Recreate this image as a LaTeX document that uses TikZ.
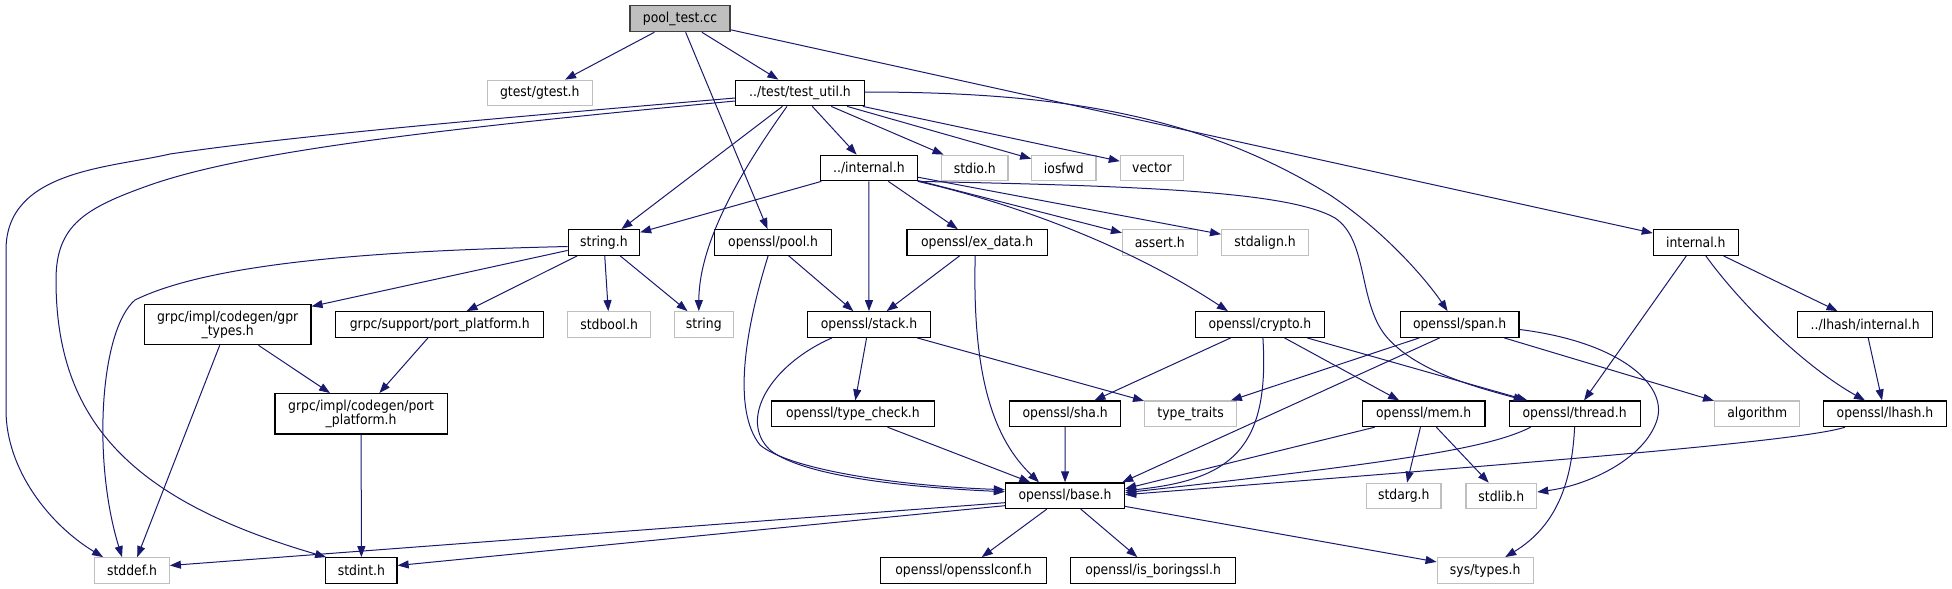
\documentclass[tikz,border=0pt]{standalone}
\usepackage{fontspec}
\newfontfamily\dxfont{DejaVuSansCondensed}[Extension=.ttf]
\usetikzlibrary{arrows.meta}
\definecolor{edgeblue}{HTML}{191970}
\definecolor{greyL}{HTML}{BFBFBF}
\definecolor{boxline}{HTML}{404040}
\begin{document}
\begin{tikzpicture}[x=1pt,y=-1pt,
  box/.style={draw=black, line width=1.2pt, fill=white, inner xsep=2pt, inner ysep=0pt,
    minimum height=25.6pt, font=\dxfont\fontsize{13.8}{14.5}\selectfont, text=black, align=center},
  doc/.style={box},
  ext/.style={box, draw=greyL},
  root/.style={box, fill=greyL, draw=boxline},
  conn/.style={draw=edgeblue, line width=1pt, -{Triangle[length=11pt,width=8pt]}},
]
\fill[white] (0,0) rectangle (1952,589);
\useasboundingbox (0,0) rectangle (1952,589);

% nodes
\node[root, minimum width=100pt, minimum height=26pt] (pt) at (680,18.7) {pool\_test.cc};
\node[ext, minimum width=104.7pt] (gt) at (539.8,93) {gtest/gtest.h};
\node[doc, minimum width=128.5pt] (tu) at (800,93) {../test/test\_util.h};
\node[doc, minimum width=96.6pt] (ih) at (868.9,168) {../internal.h};
\node[ext, minimum width=66.7pt] (stdio) at (974.7,168) {stdio.h};
\node[ext, minimum width=64.2pt] (iosfwd) at (1063.8,168) {iosfwd};
\node[ext, minimum width=63pt] (vec) at (1151.9,168) {vector};
\node[doc, minimum width=116.5pt] (pl) at (773.1,242.5) {openssl/pool.h};
\node[doc, minimum width=140.5pt] (ex) at (977.2,242.5) {openssl/ex\_data.h};
\node[ext, minimum width=74.6pt] (as) at (1159.8,242.5) {assert.h};
\node[ext, minimum width=87pt] (sa) at (1265.1,242.5) {stdalign.h};
\node[doc, minimum width=71.3pt] (sh) at (603.9,242.5) {string.h};
\node[doc, minimum width=84.9pt] (in) at (1695.8,242.5) {internal.h};
\node[doc, minimum width=166.5pt, minimum height=40pt] (gpr) at (227.7,324.7) {grpc/impl/codegen/gpr\\\_types.h};
\node[doc, minimum width=208pt] (spp) at (439.8,324.5) {grpc/support/port\_platform.h};
\node[ext, minimum width=82.8pt] (sb) at (609.1,324.5) {stdbool.h};
\node[ext, minimum width=58.9pt] (str) at (703.8,324.5) {string};
\node[doc, minimum width=122.8pt] (st) at (869,324.5) {openssl/stack.h};
\node[doc, minimum width=129.5pt] (cr) at (1259.9,324.5) {openssl/crypto.h};
\node[doc, minimum width=118.9pt] (sp) at (1459.6,324.5) {openssl/span.h};
\node[doc, minimum width=135.1pt] (lhi) at (1865.2,324.5) {../lhash/internal.h};
\node[doc, minimum width=172.2pt, minimum height=40.3pt] (cpp) at (361.1,413.8) {grpc/impl/codegen/port\\\_platform.h};
\node[doc, minimum width=163pt] (tc) at (852.9,413.8) {openssl/type\_check.h};
\node[doc, minimum width=110.7pt] (sha) at (1065.2,413.8) {openssl/sha.h};
\node[ext, minimum width=92pt] (tt) at (1190.6,413.8) {type\_traits};
\node[doc, minimum width=122.6pt] (mem) at (1423.7,413.8) {openssl/mem.h};
\node[doc, minimum width=131pt] (th) at (1574.6,413.8) {openssl/thread.h};
\node[ext, minimum width=85.2pt] (alg) at (1757.2,413.8) {algorithm};
\node[doc, minimum width=123.1pt] (lh) at (1885,413.8) {openssl/lhash.h};
\node[doc, minimum width=119.2pt] (bs) at (1065,495.7) {openssl/base.h};
\node[ext, minimum width=74.5pt] (sg) at (1403.8,496) {stdarg.h};
\node[ext, minimum width=70.7pt] (sl) at (1501.3,496) {stdlib.h};
\node[ext, minimum width=74.6pt] (sd) at (132,570.5) {stddef.h};
\node[doc, minimum width=71.3pt] (si) at (361.4,570.5) {stdint.h};
\node[doc, minimum width=165.6pt] (oc) at (963.6,570.5) {openssl/opensslconf.h};
\node[doc, minimum width=165.2pt] (ib) at (1153.1,570.5) {openssl/is\_boringssl.h};
\node[ext, minimum width=96.1pt] (sy) at (1485.2,570.5) {sys/types.h};

% pool_test.cc
\draw[conn] (pt) -- (gt);
\draw[conn] (pt) -- (tu);
\draw[conn] (pt) -- (pl);
\draw[conn] (pt) -- (in);

% test_util.h
\draw[conn] ([yshift=-5pt]tu.west) .. controls (500,118) and (300,135) .. (170,154)
  .. controls (110,168) and (6,170) .. (6,250) -- (6,410)
  .. controls (6,470) and (50,525) .. ([xshift=9pt]sd.north west);
\draw[conn] ([yshift=-8pt]tu.west) .. controls (450,128) and (250,150) .. (150,185)
  .. controls (85,208) and (56,225) .. (56,280)
  .. controls (56,420) and (130,500) .. ([xshift=1pt]si.north west);
\draw[conn] (tu) -- (sh);
\draw[conn] ([xshift=-13pt]tu.south) .. controls (745,165) and (699,240) .. ([xshift=-5pt]str.north);
\draw[conn] (tu) -- (ih);
\draw[conn] (tu) -- (stdio);
\draw[conn] (tu) -- (iosfwd);
\draw[conn] (tu) -- (vec);
\draw[conn] ([yshift=1pt]tu.east) .. controls (1060,92) and (1200,115) .. (1330,195)
  .. controls (1390,235) and (1430,285) .. ([xshift=-12pt]sp.north);

% ../internal.h
\draw[conn] (ih) -- (sh);
\draw[conn] (ih) -- (st);
\draw[conn] (ih) -- (ex);
\draw[conn] (ih) -- (as);
\draw[conn] (ih) -- (sa);
\draw[conn] (ih.south east) .. controls (1000,200) and (1120,240) .. ([xshift=-32pt]cr.north);
\draw[conn] (ih.south east) .. controls (1150,186) and (1290,192) .. (1335,218)
  .. controls (1368,240) and (1358,300) .. (1385,335)
  .. controls (1415,372) and (1480,388) .. ([xshift=-50pt]th.north);

% string.h
\draw[conn] ([yshift=-4pt]sh.west) .. controls (420,250) and (220,258) .. (135,300)
  .. controls (100,330) and (92,460) .. ([xshift=-10pt]sd.north);
\draw[conn] (sh) -- (gpr);
\draw[conn] (sh) -- (spp);
\draw[conn] (sh) -- (sb);
\draw[conn] (sh) -- (str);

% grpc
\draw[conn] (gpr) -- (sd);
\draw[conn] (gpr) -- (cpp);
\draw[conn] (spp) -- (cpp);
\draw[conn] (cpp) -- (si);

% pool.h, ex_data.h
\draw[conn] (pl) -- (st);
\draw[conn] ([xshift=-5pt]pl.south) .. controls (745,330) and (732,410) .. (760,445)
  .. controls (790,470) and (900,486) .. ([yshift=6pt]bs.west);
\draw[conn] (ex) -- (st);
\draw[conn] ([xshift=-2pt]ex.south) .. controls (972,380) and (995,440) .. ([xshift=-26pt]bs.north);

% stack.h
\draw[conn] (st) -- (tc);
\draw[conn] (st) -- (tt);
\draw[conn] ([xshift=-37pt]st.south) .. controls (770,365) and (738,420) .. (770,450)
  .. controls (805,478) and (920,488) .. ([yshift=4pt]bs.west);
\draw[conn] (tc) -- (bs);
\draw[conn] (sha) -- (bs);

% crypto.h
\draw[conn] (cr) -- (sha);
\draw[conn] ([xshift=3pt]cr.south) .. controls (1270,450) and (1230,480) .. ([yshift=5pt]bs.east);
\draw[conn] (cr) -- (mem);
\draw[conn] (cr) -- (th);

% span.h
\draw[conn] (sp) -- (tt);
\draw[conn] ([xshift=-20pt]sp.south) -- ([xshift=-3pt]bs.north east);
\draw[conn] (sp) -- (alg);
\draw[conn] ([yshift=-5pt]sp.east) .. controls (1620,342) and (1668,385) .. (1657,420)
  .. controls (1645,458) and (1590,485) .. ([yshift=4pt]sl.east);

% internal.h
\draw[conn] (in) -- (th);
\draw[conn] ([xshift=10pt]in.south) .. controls (1745,310) and (1810,370) .. ([xshift=-20pt]lh.north);
\draw[conn] (in) -- (lhi);
\draw[conn] (lhi) -- (lh);

% mem.h, thread.h, lhash.h
\draw[conn] ([xshift=-49pt]mem.south) -- ([yshift=7pt]bs.east);
\draw[conn] (mem) -- (sg);
\draw[conn] (mem) -- (sl);
\draw[conn] ([xshift=-44pt]th.south) .. controls (1490,448) and (1400,462) .. ([yshift=3pt]bs.east);
\draw[conn] (th.south) .. controls (1572,480) and (1558,525) .. ([xshift=20pt]sy.north);
\draw[conn] ([xshift=-40pt]lh.south) .. controls (1800,442) and (1500,465) .. ([yshift=1pt]bs.east);

% base.h
\draw[conn] ([yshift=-7pt]bs.west) -- ([yshift=5pt]sd.east);
\draw[conn] ([yshift=-10pt]bs.west) -- ([yshift=5pt]si.east);
\draw[conn] (bs) -- (oc);
\draw[conn] (bs) -- (ib);
\draw[conn] (bs) -- (sy);
\end{tikzpicture}
\end{document}
